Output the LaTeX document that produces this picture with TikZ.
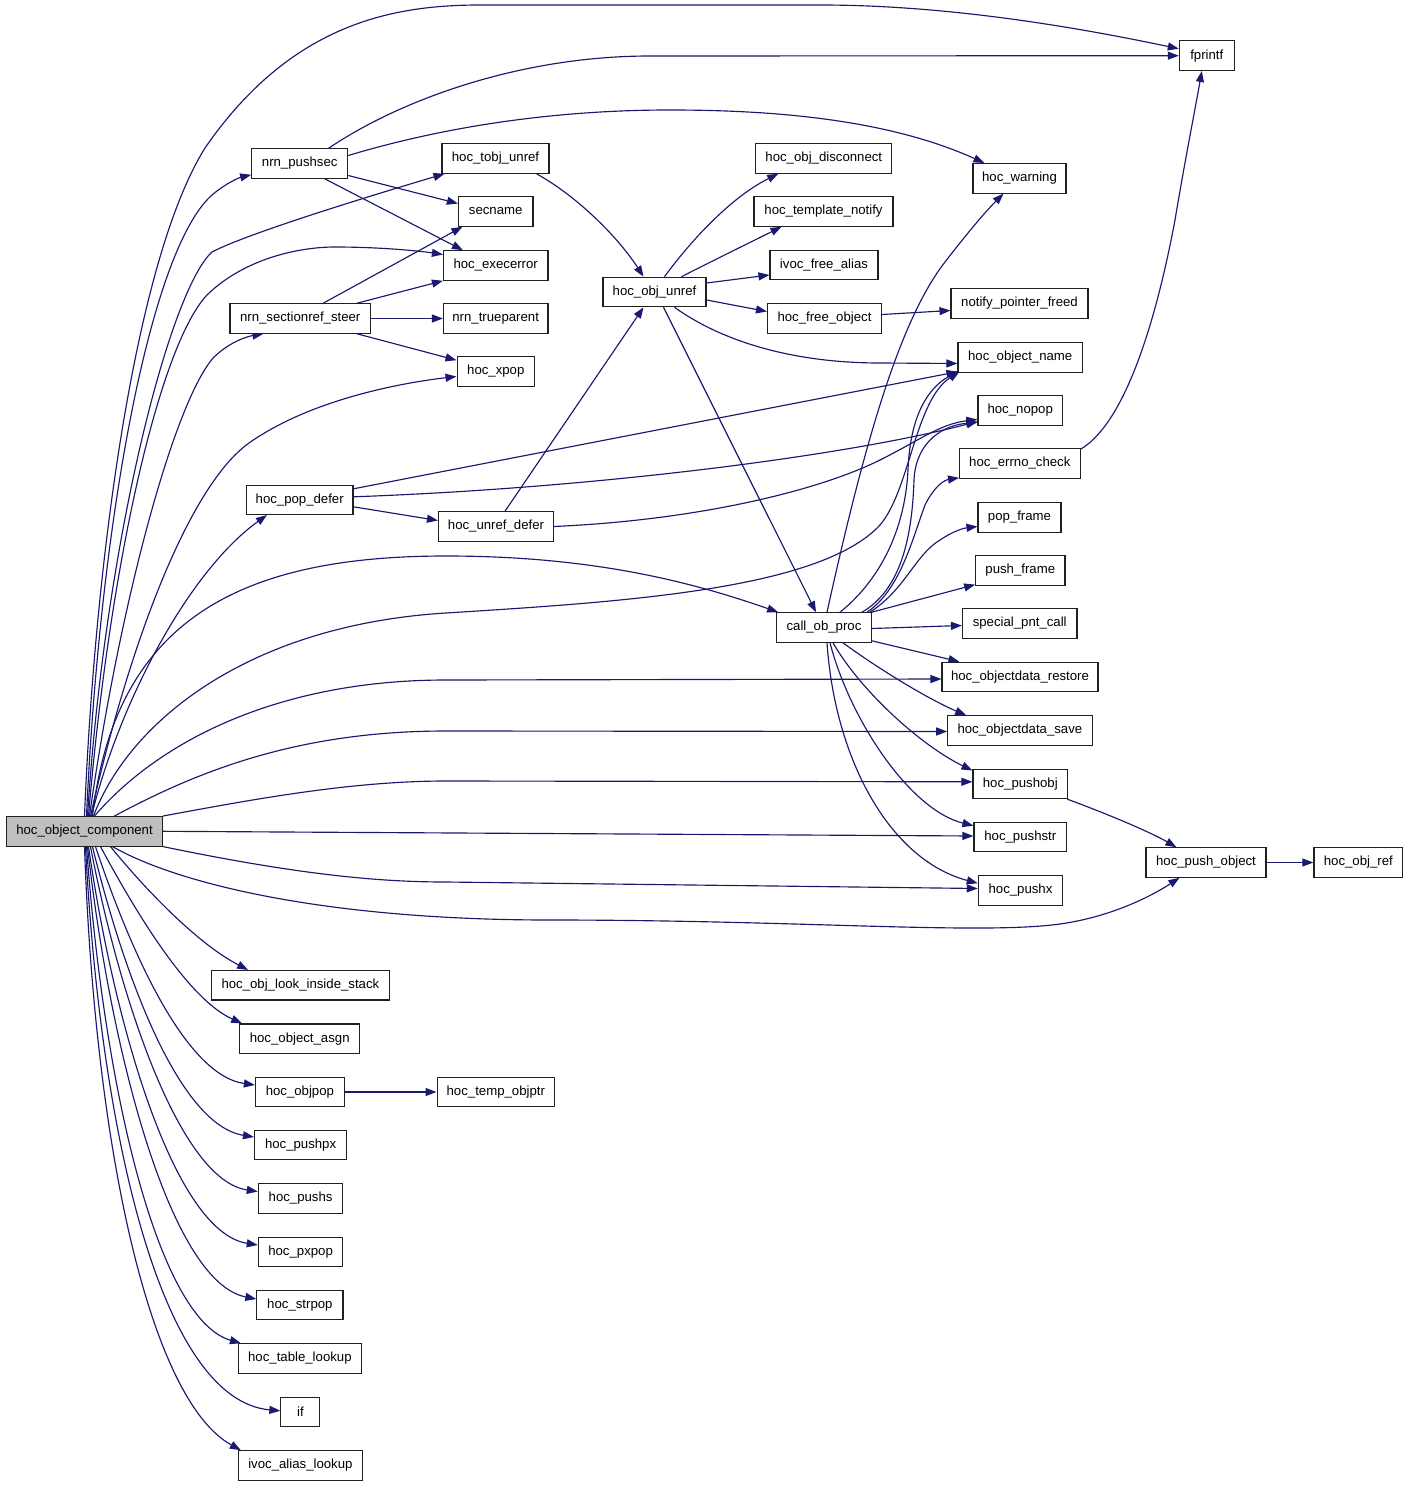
\documentclass[tikz,border=0pt]{standalone}
\usepackage{fontspec}
\setmainfont{Liberation Sans}
\usetikzlibrary{arrows.meta,backgrounds}
\definecolor{edgeblue}{HTML}{191970}
\definecolor{rootgray}{HTML}{BFBFBF}
\definecolor{boxline}{HTML}{202020}
\tikzset{
  fn/.style={draw=boxline, line width=1.1pt, fill=white, minimum height=29.5pt,
    inner sep=0pt, font=\fontsize{13.2}{15}\selectfont},
  rootfn/.style={fn, fill=rootgray},
  call/.style={draw=edgeblue, line width=1.15pt, -{Triangle[length=11pt,width=8pt]}},
}
\begin{document}
\begin{tikzpicture}[x=1pt,y=-1pt]
\path[use as bounding box] (0,0) rectangle (1408,1485);

% ---------- nodes ----------
\node[rootfn, minimum width=156pt] (comp) at (84.5,831.3) {hoc\_object\_component};
\node[fn, minimum width=55pt] (fprintf) at (1206.8,55.7) {fprintf};
\node[fn, minimum width=96pt] (pushsec) at (299.7,163.5) {nrn\_pushsec};
\node[fn, minimum width=107pt] (tobj) at (495.5,158.5) {hoc\_tobj\_unref};
\node[fn, minimum width=74.5pt] (secname) at (495.7,211.5) {secname};
\node[fn, minimum width=104.5pt] (execerror) at (495.7,265.5) {hoc\_execerror};
\node[fn, minimum width=140.5pt] (steer) at (300.2,318.5) {nrn\_sectionref\_steer};
\node[fn, minimum width=104.5pt] (trueparent) at (495.7,318.5) {nrn\_trueparent};
\node[fn, minimum width=77.5pt] (xpop) at (495.8,371.5) {hoc\_xpop};
\node[fn, minimum width=106.5pt] (popdefer) at (299.7,499.8) {hoc\_pop\_defer};
\node[fn, minimum width=115pt] (unrefdefer) at (496,526.5) {hoc\_unref\_defer};
\node[fn, minimum width=136pt] (disconnect) at (823.8,158.5) {hoc\_obj\_disconnect};
\node[fn, minimum width=139pt] (template) at (823.5,211.5) {hoc\_template\_notify};
\node[fn, minimum width=108pt] (freealias) at (824,265) {ivoc\_free\_alias};
\node[fn, minimum width=103pt] (objunref) at (654.5,292) {hoc\_obj\_unref};
\node[fn, minimum width=114pt] (freeobject) at (824.5,318.5) {hoc\_free\_object};
\node[fn, minimum width=93pt] (warning) at (1019.5,178.3) {hoc\_warning};
\node[fn, minimum width=137pt] (notify) at (1019.5,303.5) {notify\_pointer\_freed};
\node[fn, minimum width=124.5pt] (objname) at (1020.2,357.5) {hoc\_object\_name};
\node[fn, minimum width=84.5pt] (nopop) at (1020.2,410.5) {hoc\_nopop};
\node[fn, minimum width=120.5pt] (errno) at (1019.8,463.5) {hoc\_errno\_check};
\node[fn, minimum width=83pt] (popframe) at (1019.5,517.5) {pop\_frame};
\node[fn, minimum width=89.3pt] (pushframe) at (1020.3,570.3) {push\_frame};
\node[fn, minimum width=114.5pt] (special) at (1019.7,623.5) {special\_pnt\_call};
\node[fn, minimum width=94.5pt] (callob) at (824,627.5) {call\_ob\_proc};
\node[fn, minimum width=156pt] (restore) at (1020,677) {hoc\_objectdata\_restore};
\node[fn, minimum width=144.3pt] (save) at (1019.9,730.5) {hoc\_objectdata\_save};
\node[fn, minimum width=94.7pt] (pushobj) at (1020.3,783.8) {hoc\_pushobj};
\node[fn, minimum width=92.7pt] (pushstr) at (1020.3,837) {hoc\_pushstr};
\node[fn, minimum width=84.4pt] (pushx) at (1020.5,890.5) {hoc\_pushx};
\node[fn, minimum width=120pt] (pushobject) at (1206,862.5) {hoc\_push\_object};
\node[fn, minimum width=88.7pt] (objref) at (1358.3,862.5) {hoc\_obj\_ref};
\node[fn, minimum width=177.6pt] (lookinside) at (300.4,985.2) {hoc\_obj\_look\_inside\_stack};
\node[fn, minimum width=120pt] (asgn) at (299.7,1038.7) {hoc\_object\_asgn};
\node[fn, minimum width=89pt] (objpop) at (299.9,1092) {hoc\_objpop};
\node[fn, minimum width=117.5pt] (tempobjptr) at (495.8,1092) {hoc\_temp\_objptr};
\node[fn, minimum width=92.2pt] (pushpx) at (300.6,1145) {hoc\_pushpx};
\node[fn, minimum width=84.6pt] (pushs) at (300.6,1198.5) {hoc\_pushs};
\node[fn, minimum width=84.6pt] (pxpop) at (300.6,1252) {hoc\_pxpop};
\node[fn, minimum width=86.1pt] (strpop) at (299.9,1305) {hoc\_strpop};
\node[fn, minimum width=122.9pt] (tablelookup) at (299.9,1358.5) {hoc\_table\_lookup};
\node[fn, minimum width=39pt] (ifnode) at (300.4,1411.8) {if};
\node[fn, minimum width=124pt] (aliaslookup) at (300.4,1465.5) {ivoc\_alias\_lookup};

% ---------- edges ----------
\begin{scope}[on background layer]
% from hoc_object_component, upwards
\draw[call] (comp.north) .. controls (95,560) and (135,260) .. (205,148)
  .. controls (290,25) and (390,5) .. (480,5) -- (820,5)
  .. controls (950,5) and (1080,28) .. ([yshift=7pt]fprintf.west);
\draw[call] ([xshift=2pt]comp.north) .. controls (100,520) and (150,250) .. (212,195)
  .. controls (225,184) and (238,178) .. ([yshift=4pt]pushsec.south west);
\draw[call] ([xshift=3pt]comp.north) .. controls (105,540) and (170,290) .. (212,252)
  .. controls (250,232) and (390,190) .. ([xshift=3pt]tobj.south west);
\draw[call] ([xshift=4pt]comp.north) .. controls (110,560) and (160,345) .. (207,295)
  .. controls (245,258) and (300,247) .. (335,247)
  .. controls (380,247) and (420,251) .. ([yshift=11pt]execerror.west);
\draw[call] ([xshift=5pt]comp.north) .. controls (120,600) and (175,400) .. (214,357)
  .. controls (232,340) and (250,336) .. ([xshift=34pt]steer.south west);
\draw[call] ([xshift=6pt]comp.north) .. controls (130,640) and (190,485) .. (249,443)
  .. controls (310,400) and (400,383) .. ([yshift=-5pt]xpop.west);
\draw[call] ([xshift=7pt]comp.north) .. controls (120,700) and (190,570) .. ([xshift=21pt]popdefer.south west);
\draw[call] ([xshift=8pt]comp.north) .. controls (115,620) and (240,556) .. (446,556)
  .. controls (600,556) and (700,585) .. ([xshift=2pt]callob.north west);
\draw[call] ([xshift=9pt]comp.north) .. controls (130,720) and (250,625) .. (446,613)
  .. controls (620,602) and (820,590) .. (880,525)
  .. controls (910,490) and (915,400) .. ([xshift=2pt,yshift=1pt]objname.south west);
\draw[call] ([xshift=10pt]comp.north) .. controls (160,740) and (280,680) .. (446,680)
  -- ([yshift=-2pt]restore.west);
\draw[call] ([xshift=30pt]comp.north) .. controls (200,770) and (300,731) .. (446,731)
  -- ([yshift=-1pt]save.west);
\draw[call] (comp.north east) .. controls (250,800) and (350,781) .. (446,781)
  -- ([yshift=2pt]pushobj.west);
\draw[call] (comp.east) -- ([yshift=1pt]pushstr.west);
\draw[call] (comp.south east) .. controls (300,875) and (380,882) .. (446,882)
  -- ([yshift=2pt]pushx.west);
\draw[call] ([xshift=28pt]comp.south) .. controls (180,885) and (330,920) .. (550,920)
  .. controls (800,920) and (980,935) .. (1060,924)
  .. controls (1110,917) and (1150,897) .. ([xshift=34pt]pushobject.south west);

% from hoc_object_component, downwards
\draw[call] ([xshift=26pt]comp.south) .. controls (150,895) and (200,945) .. ([xshift=37pt]lookinside.north west);
\draw[call] ([xshift=16pt]comp.south) .. controls (140,920) and (190,1000) .. ([xshift=3pt]asgn.north west);
\draw[call] ([xshift=11pt]comp.south) .. controls (130,950) and (185,1075) .. ([yshift=7pt]objpop.west);
\draw[call] ([xshift=8pt]comp.south) .. controls (125,980) and (180,1125) .. ([yshift=8pt]pushpx.west);
\draw[call] ([xshift=6pt]comp.south) .. controls (120,1000) and (180,1180) .. ([yshift=7pt]pushs.west);
\draw[call] ([xshift=4pt]comp.south) .. controls (115,1030) and (175,1232) .. ([yshift=7pt]pxpop.west);
\draw[call] ([xshift=3pt]comp.south) .. controls (110,1050) and (170,1282) .. ([yshift=6pt]strpop.west);
\draw[call] ([xshift=2pt]comp.south) .. controls (105,1100) and (160,1320) .. ([xshift=3pt]tablelookup.north west);
\draw[call] ([xshift=1pt]comp.south) .. controls (100,1130) and (160,1400) .. ([yshift=1pt]ifnode.west);
\draw[call] (comp.south) .. controls (95,1150) and (150,1400) .. ([xshift=3pt]aliaslookup.north west);
\draw[call] (objpop.east) -- (tempobjptr.west);

% nrn_pushsec
\draw[call] ([xshift=29pt]pushsec.north) .. controls (400,100) and (520,56) .. (650,56) -- (fprintf.west);
\draw[call] ([yshift=8pt]pushsec.east) .. controls (450,125) and (560,110) .. (670,110)
  .. controls (800,110) and (900,125) .. ([xshift=12pt]warning.north west);
\draw[call] ([yshift=-12pt]pushsec.east) -- ([yshift=8pt]secname.west);
\draw[call] ([xshift=25pt]pushsec.south) -- ([xshift=20pt]execerror.north west);

% nrn_sectionref_steer
\draw[call] ([xshift=23pt]steer.north) -- ([xshift=4.5pt]secname.south west);
\draw[call] ([xshift=-14pt]steer.north east) -- (execerror.south west);
\draw[call] (steer.east) -- (trueparent.west);
\draw[call] ([xshift=-14pt]steer.south east) -- ([yshift=-4pt]xpop.north west);

% hoc_tobj_unref
\draw[call] ([xshift=-13pt]tobj.south east) .. controls (580,198) and (620,240) .. ([xshift=-11pt]objunref.north);

% hoc_pop_defer
\draw[call] ([yshift=11pt]popdefer.east) -- ([yshift=1pt]objname.south west);
\draw[call] ([yshift=3pt]popdefer.east) .. controls (600,488) and (850,455) .. ([yshift=-11pt]nopop.west);
\draw[call] ([yshift=-7pt]popdefer.east) -- ([yshift=6pt]unrefdefer.west);

% hoc_unref_defer
\draw[call] ([xshift=9pt]unrefdefer.north) -- ([xshift=-11pt]objunref.south);
\draw[call] (unrefdefer.east) .. controls (700,520) and (820,490) .. (880,460)
  .. controls (920,440) and (940,424) .. ([yshift=-9pt]nopop.west);

% hoc_obj_unref
\draw[call] ([xshift=10pt]objunref.north) .. controls (695,235) and (735,195) .. ([xshift=23pt]disconnect.south west);
\draw[call] ([xshift=27pt]objunref.north) .. controls (710,262) and (745,245) .. ([xshift=28pt]template.south west);
\draw[call] ([yshift=9pt]objunref.east) -- ([yshift=-10pt]freealias.west);
\draw[call] ([yshift=-8pt]objunref.east) -- ([yshift=7pt]freeobject.west);
\draw[call] ([xshift=20pt]objunref.south) .. controls (720,340) and (790,363) .. (880,363)
  -- ([yshift=-6pt]objname.west);
\draw[call] ([xshift=9pt]objunref.south) -- ([xshift=-8pt]callob.north);

% hoc_free_object
\draw[call] ([yshift=4pt]freeobject.east) -- ([yshift=-7pt]notify.west);

% call_ob_proc
\draw[call] ([xshift=3pt]callob.north) .. controls (865,440) and (900,320) .. (945,262)
  .. controls (965,236) and (985,212) .. ([xshift=-16pt]warning.south);
\draw[call] ([xshift=16pt]callob.north) .. controls (880,580) and (905,530) .. (908,470)
  .. controls (910,420) and (925,390) .. ([xshift=1pt,yshift=2pt]objname.south west);
\draw[call] ([xshift=38pt]callob.north) .. controls (900,590) and (912,540) .. (914,480)
  .. controls (916,440) and (945,425) .. ([yshift=-12pt]nopop.west);
\draw[call] ([xshift=43pt]callob.north) .. controls (900,590) and (912,540) .. (925,505)
  .. controls (935,485) and (945,480) .. ([yshift=1pt]errno.south west);
\draw[call] ([xshift=-2pt]callob.north east) .. controls (905,590) and (915,555) .. (940,540)
  .. controls (955,530) and (965,528) .. ([yshift=-9pt]popframe.west);
\draw[call] (callob.north east) -- ([yshift=1pt]pushframe.south west);
\draw[call] ([yshift=-1pt]callob.east) -- ([yshift=-2pt]special.west);
\draw[call] ([yshift=2pt]callob.south east) -- ([xshift=18pt]restore.north west);
\draw[call] ([xshift=19pt]callob.south) .. controls (880,670) and (930,700) .. ([xshift=19pt]save.north west);
\draw[call] ([xshift=9pt]callob.south) .. controls (860,690) and (920,745) .. ([yshift=-2pt]pushobj.north west);
\draw[call] ([xshift=6pt]callob.south) .. controls (850,720) and (910,810) .. ([yshift=-4pt]pushstr.north west);
\draw[call] ([xshift=3pt]callob.south) .. controls (835,760) and (890,860) .. ([yshift=-8pt]pushx.north west);

% others
\draw[call] ([yshift=-1pt]errno.north east) .. controls (1130,420) and (1160,300) .. (1175,220)
  .. controls (1185,160) and (1195,110) .. ([xshift=-5pt]fprintf.south);
\draw[call] ([xshift=-1pt]pushobj.south east) .. controls (1110,815) and (1150,832) .. ([xshift=31pt]pushobject.north west);
\draw[call] (pushobject.east) -- (objref.west);
\end{scope}
\end{tikzpicture}
\end{document}
